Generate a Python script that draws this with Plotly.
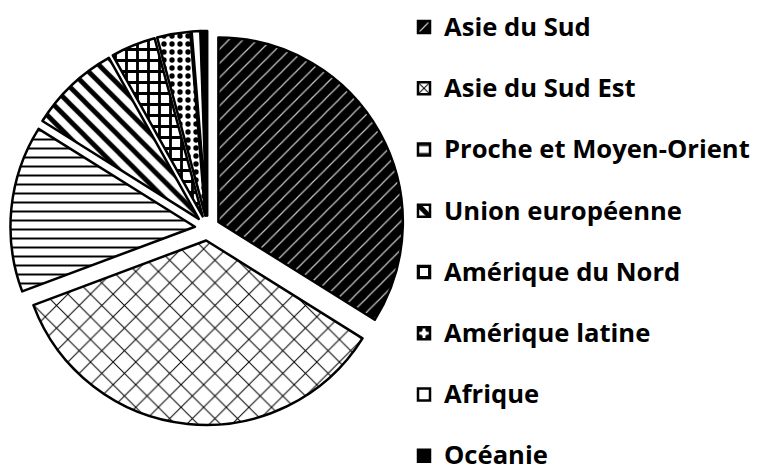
import plotly.graph_objects as go

# Categories and shares (%)
regions = ["Asie du Sud", "Asie du Sud Est", "Proche et Moyen-Orient",
           "Union européenne", "Amérique du Nord", "Amérique latine",
           "Afrique", "Océanie"]
shares = [33.9, 35.4, 14.6, 8.0, 3.9, 2.9, 0.75, 0.55]

# Fill styles (pattern per slice)
pat_shapes = ["/", "x", "-", "\\", "+", ".", "", ""]
pat_fg = ["#c8c8c8", "black", "black", "black", "black", "black", "black", "black"]
pat_bg = ["black", "white", "white", "white", "white", "white", "white", "black"]
pat_size = [10, 16, 9, 12, 11, 8, 8, 8]
pat_solid = [0.12, 0.12, 0.22, 0.4, 0.45, 0.35, 0.3, 0.3]

n = len(regions)
legend_text = [
    f'<span style="font-size:25.6px">{r}</span>' + ("<br>\u00a0" if i < n - 1 else "")
    for i, r in enumerate(regions)
]

fig = go.Figure(go.Pie(
    labels=legend_text,
    values=shares,
    sort=False,
    direction="clockwise",
    rotation=0,
    textinfo="none",
    hoverinfo="label+percent",
    pull=[0.068] * n,
    marker=dict(
        colors=pat_bg,
        line=dict(color="black", width=2.5),
        pattern=dict(shape=pat_shapes, fgcolor=pat_fg, bgcolor=pat_bg,
                     size=pat_size, solidity=pat_solid, fillmode="replace"),
    ),
    domain=dict(x=[0.01354, 0.5266], y=[0.1015, 0.9345]),
))

fig.update_layout(
    width=768, height=473,
    margin=dict(l=0, r=0, t=0, b=0, autoexpand=False),
    paper_bgcolor="white", plot_bgcolor="white",
    showlegend=True,
    legend=dict(
        x=404 / 768, xanchor="left",
        y=1 - 6 / 473, yanchor="top",
        valign="top",
        font=dict(family="Open Sans", size=22.4, color="black", weight="bold"),
        bgcolor="rgba(0,0,0,0)",
        borderwidth=0,
    ),
)

fig.write_html("out.html",
               config={"displayModeBar": False},
               post_script="document.body.style.margin='0px';document.body.style.overflow='hidden';")
